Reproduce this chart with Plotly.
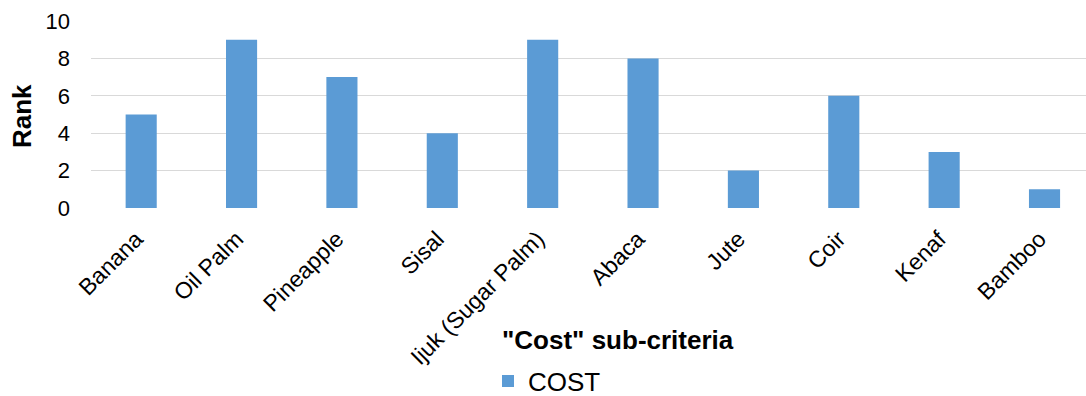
import plotly.graph_objects as go

categories = ["Banana", "Oil Palm", "Pineapple", "Sisal", "Ijuk (Sugar Palm)",
              "Abaca", "Jute", "Coir", "Kenaf", "Bamboo"]
cost_rank = [5, 9, 7, 4, 9, 8, 2, 6, 3, 1]
y_ticks = [0, 2, 4, 6, 8, 10]

W, H = 1086, 396
L, R, T, B = 91, 0, 21, 188
PW = W - L - R
PH = H - T - B

fig = go.Figure()
fig.add_trace(go.Bar(
    x=list(range(len(categories))), y=cost_rank, name="COST",
    marker=dict(color="#5B9BD5", line=dict(width=0)),
    width=0.31,
))

fig.update_layout(
    width=W, height=H,
    margin=dict(l=L, r=R, t=T, b=B, autoexpand=False),
    paper_bgcolor="white", plot_bgcolor="white",
    font=dict(family="Liberation Sans, Arial, sans-serif", color="#000000", size=22),
    showlegend=True,
    legend=dict(orientation="h", xref="paper", yref="container",
                x=(488 - L) / PW, y=1 - 381 / H,
                xanchor="left", yanchor="middle", font=dict(size=26),
                bgcolor="rgba(0,0,0,0)", itemwidth=30),
    xaxis=dict(
        tickmode="array", tickvals=list(range(len(categories))), ticktext=categories,
        range=[-0.5, 9.5 - (1094.7 - 1086) / 100.3],
        tickangle=-45, showgrid=False, showline=False, ticks="",
        tickfont=dict(size=23), zeroline=False, automargin=False,
        ticklabelstandoff=12, ticklabelshift=-5,
    ),
    yaxis=dict(
        range=[0, 10], tickvals=y_ticks, showgrid=True, gridcolor="#D9D9D9", gridwidth=1.3,
        zeroline=False, showline=False, ticks="", tickfont=dict(size=22),
        ticklabelstandoff=20, automargin=False,
    ),
    annotations=[
        dict(text='<b>"Cost" sub-criteria</b>', xref="paper", yref="paper",
             x=(618 - L) / PW, y=-(340 - 208) / PH,
             xanchor="center", yanchor="middle", showarrow=False, font=dict(size=26)),
        dict(text="<b>Rank</b>", xref="paper", yref="paper",
             x=(22 - L) / PW, y=(208 - 116) / PH, textangle=-90,
             xanchor="center", yanchor="middle", showarrow=False, font=dict(size=26)),
    ],
)

fig.write_html("out.html")
